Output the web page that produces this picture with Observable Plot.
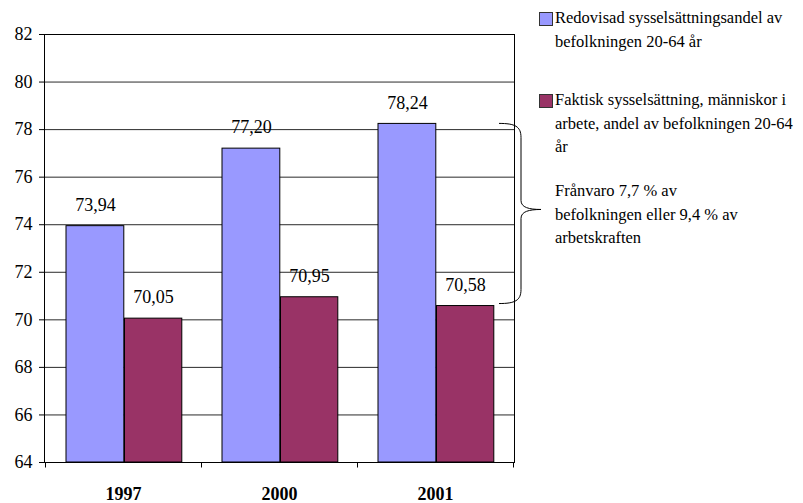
<!DOCTYPE html>
<html>
<head>
<meta charset="utf-8">
<script src="https://cdn.jsdelivr.net/npm/d3@7"></script>
<script src="https://cdn.jsdelivr.net/npm/@observablehq/plot@0.6"></script>
<style>
  body { margin: 0; background: #fff; }
  #wrap { position: relative; width: 803px; height: 503px; overflow: hidden; font-family: "Times New Roman"; }
  .leg { position: absolute; font-family: "Times New Roman"; font-size: 16.5px; line-height: 23.5px; color: #000; white-space: nowrap; }
  .sw { position: absolute; width: 12px; height: 12px; border: 1px solid #333; }
</style>
</head>
<body>
<div id="wrap"></div>
<script>
// ---- data ----
const years = ["1997", "2000", "2001"];
const reported = [73.94, 77.20, 78.24];   // Redovisad sysselsättningsandel
const actual = [70.05, 70.95, 70.58];     // Faktisk sysselsättning
const yDomain = [64, 82];
const yTicks = [64, 66, 68, 70, 72, 74, 76, 78, 80, 82];
const seriesNames = [
  ["Redovisad sysselsättningsandel av", "befolkningen 20-64 år"],
  ["Faktisk sysselsättning, människor i", "arbete, andel av befolkningen 20-64", "år"]
];
const noteLines = ["Frånvaro 7,7 % av", "befolkningen eller 9,4 % av", "arbetskraften"];
const colors = ["#9999FF", "#993366"];

const repData = years.map((y, i) => ({year: y, value: reported[i]}));
const actData = years.map((y, i) => ({year: y, value: actual[i]}));
const fmt = v => v.toFixed(2).replace(".", ",");

// curly bracket spanning last reported to last actual value
const bracket = (index, scales) => {
  const y = scales.y;
  const yT = y(reported[reported.length - 1]);
  const yB = y(actual[actual.length - 1]) - 2;
  const ym = (yT + yB) / 2 - 4;
  const x0 = 499, xv = 521, xp = 541;
  const d = `M${x0},${yT} C${x0 + 16},${yT} ${xv},${yT + 3} ${xv},${yT + 14} L${xv},${ym - 9} C${xv},${ym - 2} ${xv + 8},${ym} ${xp},${ym} C${xv + 8},${ym} ${xv},${ym + 2} ${xv},${ym + 9} L${xv},${yB - 14} C${xv},${yB - 3} ${x0 + 16},${yB} ${x0},${yB}`;
  return d3.create("svg:path").attr("d", d).attr("fill", "none").attr("stroke", "#000").attr("stroke-width", 1).node();
};

// boundary ticks under the x axis (category edges)
const xTicks = (index, scales) => {
  const x = scales.x, y = scales.y;
  const step = x(years[1]) - x(years[0]);
  const edges = years.map(v => x(v)).concat([x(years[years.length - 1]) + step]);
  const y0 = Math.round(y(yDomain[0])) + 0.5;
  const g = d3.create("svg:g").attr("stroke", "#000");
  for (const e of edges) {
    if (!isFinite(e)) continue;
    const xx = Math.round(e) + 0.5;
    g.append("line").attr("x1", xx).attr("x2", xx).attr("y1", y0).attr("y2", y0 + 5);
  }
  return g.node();
};

const chart = Plot.plot({
  width: 803,
  height: 503,
  marginLeft: 44,
  marginRight: 289,
  marginTop: 34,
  marginBottom: 41,
  style: {fontFamily: "Times New Roman", fontSize: "18px", color: "#000", background: "#fff"},
  x: {domain: years, padding: 0, axis: null},
  y: {domain: yDomain, ticks: yTicks, tickSize: 5, tickPadding: 7, label: null},
  marks: [
    Plot.ruleY(yTicks, {stroke: "#2a2a2a", strokeWidth: 1}),
    Plot.barY(repData, {x: "year", y1: yDomain[0], y2: "value", fill: colors[0], stroke: "#000", strokeWidth: 1, insetLeft: 21, insetRight: 77.2}),
    Plot.barY(actData, {x: "year", y1: yDomain[0], y2: "value", fill: colors[1], stroke: "#000", strokeWidth: 1, insetLeft: 79.5, insetRight: 19.2}),
    Plot.text(repData, {x: "year", y: "value", text: d => fmt(d.value), dx: -28.1, dy: -21, fill: "#000", fontSize: 18}),
    Plot.text(actData, {x: "year", y: "value", text: d => fmt(d.value), dx: 29.9, dy: -21, fill: "#000", fontSize: 18}),
    Plot.frame({stroke: "#000"}),
    Plot.text(years, {x: d => d, y: yDomain[0], dy: 32, text: d => d, fontWeight: "bold", fill: "#000", fontSize: 18}),
    xTicks,
    bracket
  ]
});

const wrap = document.getElementById("wrap");
wrap.appendChild(chart);

// legend + annotation
function addBlock(lines, top, color) {
  const div = document.createElement("div");
  div.className = "leg";
  div.style.left = "555px";
  div.style.top = top + "px";
  div.innerHTML = lines.join("<br>");
  wrap.appendChild(div);
  if (color) {
    const sw = document.createElement("div");
    sw.className = "sw";
    sw.style.left = "539px";
    sw.style.top = (top + 6) + "px";
    sw.style.background = color;
    wrap.appendChild(sw);
  }
}
addBlock(seriesNames[0], 6, colors[0]);
addBlock(seriesNames[1], 88, colors[1]);
addBlock(noteLines, 179, null);
</script>
</body>
</html>
